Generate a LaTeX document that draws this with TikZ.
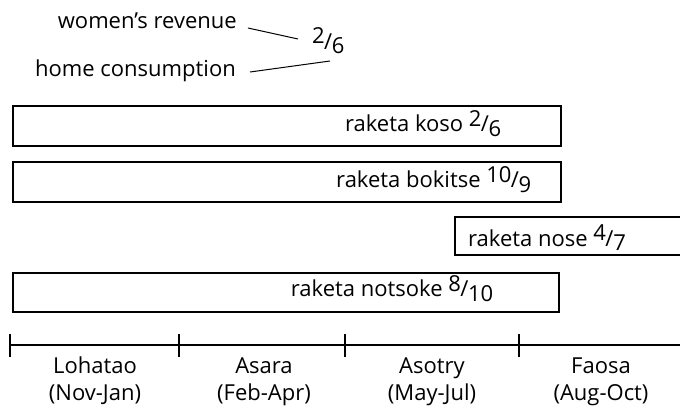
\documentclass[tikz,border=0pt]{standalone}
\usepackage{fontspec}
\setmainfont{Open Sans}
\newcommand{\frc}[2]{\raisebox{0.24em}{#1}\kern-0.03em/\kern-0.01em\raisebox{-0.22em}{#2}}
\begin{document}
\begin{tikzpicture}[x=1pt,y=-1pt,
  lbl/.style={inner sep=0pt, font=\fontsize{22}{27}\selectfont},
  barbox/.style={draw, line width=1.5pt, inner sep=0pt, anchor=north west},
  lead/.style={line width=1pt},
  boxline/.style={line width=1.5pt}]
\clip (0,0) rectangle (680,410);
\fill[white] (0,0) rectangle (680,410);
% top legend
\node[lbl, anchor=base east] (wr) at (237,28) {women’s revenue};
\node[lbl, anchor=base east] (hc) at (236,76) {home consumption};
\node[lbl, anchor=base west] (tf) at (312,49) {\frc{2}{6}};
\coordinate (wrend) at (248,28);
\coordinate (tfa) at (298,39);
\coordinate (hcend) at (250,72);
\coordinate (tfb) at (330,61);
\draw[lead] (wrend) -- (tfa);
\draw[lead] (hcend) -- (tfb);
% bars
\node[barbox, minimum width=548pt, minimum height=40pt] (koso) at (12,105) {};
\node[lbl, anchor=base east] (kosot) at ([xshift=-60pt, yshift=15pt]koso.south east) {raketa koso \frc{2}{6}};
\node[barbox, minimum width=548pt, minimum height=40pt] (bok) at (12,161) {};
\node[lbl, anchor=base east] (bokt) at ([xshift=-30pt, yshift=15pt]bok.south east) {raketa bokitse \frc{10}{9}};
\coordinate (nosetl) at (455,217);
\coordinate (nosebl) at (455,255);
\draw[boxline] (690,217) -- (nosetl) -- (nosebl) -- (690,255);
\node[lbl, anchor=base west] (noset) at ([xshift=13pt, yshift=9pt]nosebl) {raketa nose \frc{4}{7}};
\node[barbox, minimum width=546pt, minimum height=39pt] (nots) at (12,272) {};
\node[lbl, anchor=base east] (notst) at ([xshift=-66pt, yshift=16pt]nots.south east) {raketa notsoke \frc{8}{10}};
% axis
\draw[boxline] (10,345) -- (690,345);
\foreach \x in {10,179,345,519} \draw[line width=1.2pt] (\x,334) -- (\x,357);
\node[lbl, align=center, anchor=base] (lo) at (95,400) {Lohatao\\(Nov-Jan)};
\node[lbl, align=center, anchor=base] (as) at (264,400) {Asara\\(Feb-Apr)};
\node[lbl, align=center, anchor=base] (ao) at (432,400) {Asotry\\(May-Jul)};
\node[lbl, align=center, anchor=base] (fa) at (601,400) {Faosa\\(Aug-Oct)};
\end{tikzpicture}
\end{document}
